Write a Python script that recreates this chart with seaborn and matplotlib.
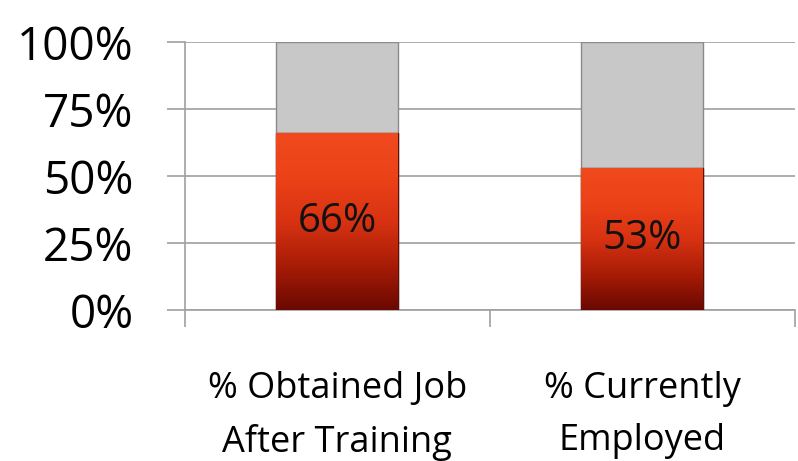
import numpy as np
import pandas as pd
import matplotlib
matplotlib.use("Agg")
import matplotlib.pyplot as plt
import seaborn as sns
from matplotlib.colors import LinearSegmentedColormap

# dados do gráfico
categorias = ["% Obtained Job\nAfter Training", "% Currently\nEmployed"]
valores = [66, 53]
yticks = [0, 25, 50, 75, 100]

df = pd.DataFrame({"cat": categorias, "val": valores, "total": [100, 100]})

sns.set_style("white")
plt.rcParams["font.family"] = ["Open Sans", "DejaVu Sans"]
plt.rcParams["text.color"] = "black"
plt.rcParams["xtick.color"] = "black"
plt.rcParams["ytick.color"] = "black"

fig = plt.figure(figsize=(7.98, 4.61), dpi=100)
ax = fig.add_axes([0.2318, 0.3275, 0.7642, 0.5813])

# barra de fundo cinza (100%) e barra vermelha por cima
sns.barplot(data=df, x="cat", y="total", color="#c8c8c8", width=0.4,
            edgecolor="#8a8a8a", linewidth=1, ax=ax, zorder=2)
sns.barplot(data=df, x="cat", y="val", color="#c0280a", width=0.4,
            edgecolor="#5a1008", linewidth=1, ax=ax, zorder=3)

# gradiente vermelho dentro das barras
cmap = LinearSegmentedColormap.from_list("verm", ["#6a0802", "#a81c06", "#d83212", "#ec4218", "#f04a1e"])
grad = np.linspace(0, 1, 256).reshape(-1, 1)
red_patches = ax.patches[len(categorias):]
for p, v in zip(red_patches, valores):
    x0 = p.get_x()
    w = p.get_width()
    im = ax.imshow(grad, cmap=cmap, aspect="auto", origin="lower",
                   extent=[x0, x0 + w, 0, v], zorder=3.5)
    im.set_clip_path(p)
    ax.text(x0 + w / 2, v / 2, f"{v}%", ha="center", va="center",
            fontsize=29, color="#111111", zorder=5)

ax.set_xlim(-0.5, 1.5)
ax.set_ylim(0, 100)
ax.set_yticks(yticks)
ax.set_yticklabels([f"{t}%" for t in yticks], fontsize=33)
ax.yaxis.grid(True, color="#a0a0a0", linewidth=1.2, zorder=0)
ax.set_axisbelow(True)
ax.tick_params(axis="y", left=True, length=13, width=1.2, color="#a0a0a0",
               labelcolor="black", pad=24)

ax.set_xticks([0, 1])
ax.set_xticklabels(categorias, fontsize=26, linespacing=1.6)
ax.tick_params(axis="x", which="major", bottom=False, length=0, pad=44,
               labelcolor="black")
ax.set_xticks([-0.5, 0.5, 1.5], minor=True)
ax.tick_params(axis="x", which="minor", bottom=True, length=12, width=1.2,
               color="#a0a0a0")

ax.set_xlabel("")
ax.set_ylabel("")
sns.despine(ax=ax, top=True, right=True)
for s in ["left", "bottom"]:
    ax.spines[s].set_color("#a0a0a0")
    ax.spines[s].set_linewidth(1.2)

fig.savefig("out.png", dpi=100)
